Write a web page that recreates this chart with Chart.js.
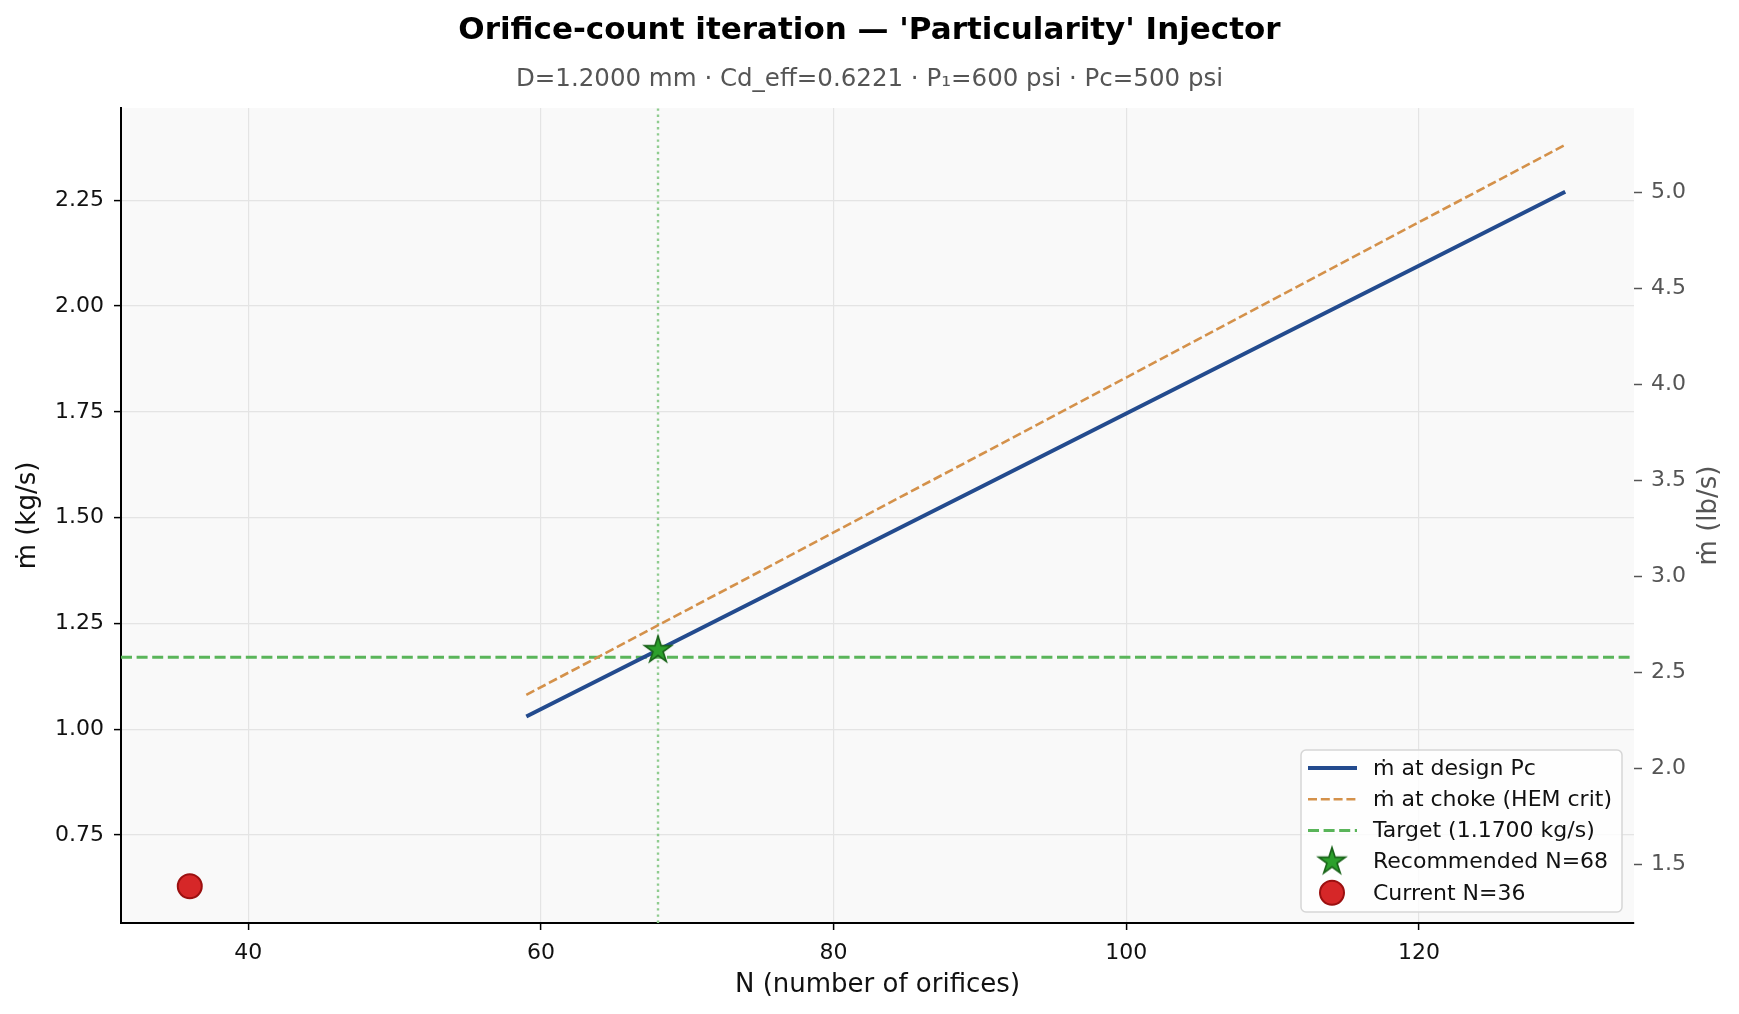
<!DOCTYPE html>
<html>
<head>
<meta charset="utf-8">
<script src="https://cdn.jsdelivr.net/npm/chart.js@4.4.1/dist/chart.umd.min.js"></script>
<style>
  html, body { margin: 0; padding: 0; background: #fff; }
  canvas { display: block; }
</style>
</head>
<body>
<canvas id="orificeChart" width="1739" height="1014"></canvas>
<script>
// values
const orificeCounts = [59, 70, 80, 90, 100, 110, 120, 130];
const mdotDesign = [1.030, 1.222, 1.397, 1.571, 1.746, 1.921, 2.095, 2.270];
const mdotChoke = [1.081, 1.282, 1.465, 1.648, 1.831, 2.015, 2.198, 2.381];
const targetMdot = 1.17;
const recommended = { n: 68, mdot: 1.187 };
const current = { n: 36, mdot: 0.629 };

const xTicks = [40, 60, 80, 100, 120];
const yTicksKg = [0.75, 1.0, 1.25, 1.5, 1.75, 2.0, 2.25];
const yTicksLb = [1.5, 2.0, 2.5, 3.0, 3.5, 4.0, 4.5, 5.0];

const xMin = 31.3, xMax = 134.7;
const yMin = 0.542, yMax = 2.468;
const KG_TO_LB = 2.20462;

const FONT = "'DejaVu Sans', 'Liberation Sans', sans-serif";

function makeStar(R, fill, stroke, lw) {
  const size = Math.ceil(2 * R + 2 * lw + 2);
  const c = document.createElement("canvas");
  c.width = size;
  c.height = size;
  const g = c.getContext("2d");
  const cx = size / 2, cy = size / 2;
  const r = R * 0.381966;
  g.beginPath();
  for (let i = 0; i < 10; i++) {
    const rad = i % 2 === 0 ? R : r;
    const a = -Math.PI / 2 + (i * Math.PI) / 5;
    const px = cx + rad * Math.cos(a);
    const py = cy + rad * Math.sin(a);
    if (i === 0) g.moveTo(px, py);
    else g.lineTo(px, py);
  }
  g.closePath();
  g.fillStyle = fill;
  g.fill();
  g.lineWidth = lw;
  g.lineJoin = "miter";
  g.strokeStyle = stroke;
  g.stroke();
  return c;
}

const starImg = makeStar(14, "#2ca02c", "#1a641a", 1.7);

const toPoints = (xs, ys) => xs.map((x, i) => ({ x: x, y: ys[i] }));

const plotBackground = {
  id: "plotBackground",
  beforeDraw(chart) {
    const { ctx, chartArea } = chart;
    ctx.save();
    ctx.fillStyle = "#f9f9f9";
    ctx.fillRect(chartArea.left, chartArea.top, chartArea.right - chartArea.left, chartArea.bottom - chartArea.top);
    ctx.restore();
  },
};

// right axis label reads bottom-to-top like the reference
const rightAxisLabel = {
  id: "rightAxisLabel",
  afterDraw(chart) {
    const { ctx, chartArea } = chart;
    ctx.save();
    ctx.translate(1709, (chartArea.top + chartArea.bottom) / 2);
    ctx.rotate(-Math.PI / 2);
    ctx.font = "26px " + FONT;
    ctx.fillStyle = "#555";
    ctx.textAlign = "center";
    ctx.textBaseline = "middle";
    ctx.fillText("ṁ (lb/s)", 0, 0);
    ctx.restore();
  },
};

const boxLegend = {
  id: "boxLegend",
  afterDraw(chart) {
    const { ctx, chartArea } = chart;
    const items = chart.data.datasets.filter((d) => d.inLegend);
    const w = 321, rowH = 31.2, h = 162;
    const left = chartArea.right - 12 - w;
    const top = chartArea.bottom - 11 - h;
    ctx.save();
    ctx.beginPath();
    ctx.roundRect(left, top, w, h, 5);
    ctx.fillStyle = "rgba(255,255,255,0.8)";
    ctx.fill();
    ctx.lineWidth = 1.5;
    ctx.strokeStyle = "#d6d6d6";
    ctx.stroke();

    ctx.font = "22px " + FONT;
    ctx.textBaseline = "middle";
    ctx.textAlign = "left";
    items.forEach((d, i) => {
      const cy = top + 18 + i * rowH;
      const hx0 = left + 7, hx1 = left + 56, hcx = left + 31;
      if (d.legendKind === "line") {
        ctx.beginPath();
        ctx.setLineDash(d.borderDash || []);
        ctx.lineWidth = d.borderWidth;
        ctx.strokeStyle = d.borderColor;
        ctx.moveTo(hx0, cy);
        ctx.lineTo(hx1, cy);
        ctx.stroke();
        ctx.setLineDash([]);
      } else if (d.legendKind === "star") {
        ctx.drawImage(starImg, hcx - starImg.width / 2, cy - starImg.height / 2);
      } else {
        ctx.beginPath();
        ctx.arc(hcx, cy, d.pointRadius, 0, Math.PI * 2);
        ctx.fillStyle = d.backgroundColor;
        ctx.fill();
        ctx.lineWidth = d.borderWidth;
        ctx.strokeStyle = d.borderColor;
        ctx.stroke();
      }
      ctx.fillStyle = "#111";
      ctx.fillText(d.label, left + 72, cy + 1);
    });
    ctx.restore();
  },
};

const config = {
  type: "line",
  data: {
    datasets: [
      {
        label: "ṁ at design Pc",
        data: toPoints(orificeCounts, mdotDesign),
        borderColor: "#234b8e",
        borderWidth: 4,
        pointRadius: 0,
        order: 3,
        inLegend: true,
        legendKind: "line",
      },
      {
        label: "ṁ at choke (HEM crit)",
        data: toPoints(orificeCounts, mdotChoke),
        borderColor: "#d4914a",
        borderWidth: 2.6,
        borderDash: [9, 3.8],
        pointRadius: 0,
        order: 4,
        inLegend: true,
        legendKind: "line",
      },
      {
        label: "Target (" + targetMdot.toFixed(4) + " kg/s)",
        data: [{ x: xMin, y: targetMdot }, { x: xMax, y: targetMdot }],
        borderColor: "#5ab55a",
        borderWidth: 3,
        borderDash: [11, 4.6],
        pointRadius: 0,
        order: 5,
        inLegend: true,
        legendKind: "line",
      },
      {
        label: "N line",
        data: [{ x: recommended.n, y: yMin }, { x: recommended.n, y: yMax }],
        borderColor: "#8fcc8f",
        borderWidth: 2.4,
        borderDash: [2.4, 3.8],
        pointRadius: 0,
        order: 6,
        inLegend: false,
      },
      {
        label: "Recommended N=" + recommended.n,
        data: [{ x: recommended.n, y: recommended.mdot }],
        showLine: false,
        pointStyle: starImg,
        pointRadius: 14,
        order: 0,
        inLegend: true,
        legendKind: "star",
      },
      {
        label: "Current N=" + current.n,
        data: [{ x: current.n, y: current.mdot }],
        showLine: false,
        pointStyle: "circle",
        pointRadius: 12,
        backgroundColor: "#d62728",
        borderColor: "#9b1010",
        borderWidth: 2,
        order: 1,
        inLegend: true,
        legendKind: "circle",
      },
    ],
  },
  options: {
    responsive: false,
    devicePixelRatio: 1,
    animation: false,
    layout: { padding: 0 },
    plugins: {
      legend: { display: false },
      tooltip: { enabled: false },
      title: {
        display: true,
        text: "Orifice-count iteration — 'Particularity' Injector",
        color: "#000",
        font: { family: FONT, size: 31, weight: "bold" },
        padding: { top: 12, bottom: 15.7 },
      },
      subtitle: {
        display: true,
        text: "D=1.2000 mm · Cd_eff=0.6221 · P₁=600 psi · Pc=500 psi",
        color: "#555",
        font: { family: FONT, size: 24.5 },
        padding: { top: 0, bottom: 13.7 },
      },
    },
    scales: {
      x: {
        type: "linear",
        min: xMin,
        max: xMax,
        afterBuildTicks: (scale) => {
          scale.ticks = xTicks.map((v) => ({ value: v }));
        },
        afterFit: (scale) => {
          scale.height = 91;
        },
        ticks: {
          color: "#111",
          font: { family: FONT, size: 22 },
          padding: 10,
          maxRotation: 0,
          callback: (v) => String(v),
        },
        grid: { color: "#e4e4e4", lineWidth: 1.2, tickColor: "#000", tickLength: 7, tickWidth: 1.5 },
        border: { display: true, color: "#000", width: 2 },
        title: {
          display: true,
          text: "N (number of orifices)",
          color: "#111",
          font: { family: FONT, size: 26 },
          padding: { top: 0, bottom: 13 },
        },
      },
      y: {
        type: "linear",
        position: "left",
        min: yMin,
        max: yMax,
        afterBuildTicks: (scale) => {
          scale.ticks = yTicksKg.map((v) => ({ value: v }));
        },
        afterFit: (scale) => {
          scale.width = 121;
        },
        ticks: {
          color: "#111",
          font: { family: FONT, size: 22 },
          padding: 10,
          callback: (v) => Number(v).toFixed(2),
        },
        grid: { color: "#e4e4e4", lineWidth: 1.2, tickColor: "#000", tickLength: 7, tickWidth: 1.5 },
        border: { display: true, color: "#000", width: 2 },
        title: {
          display: true,
          text: "ṁ (kg/s)",
          color: "#111",
          font: { family: FONT, size: 26 },
          padding: { top: 13, bottom: 0 },
        },
      },
      yLb: {
        type: "linear",
        position: "right",
        min: yMin * KG_TO_LB,
        max: yMax * KG_TO_LB,
        afterBuildTicks: (scale) => {
          scale.ticks = yTicksLb.map((v) => ({ value: v }));
        },
        afterFit: (scale) => {
          scale.width = 105;
        },
        ticks: {
          color: "#555",
          font: { family: FONT, size: 22 },
          padding: 9,
          callback: (v) => Number(v).toFixed(1),
        },
        grid: { drawOnChartArea: false, color: "#555", tickColor: "#555", tickLength: 8, tickWidth: 1.5 },
        border: { display: false },
      },
    },
  },
  plugins: [plotBackground, rightAxisLabel, boxLegend],
};

const orificeChart = new Chart(document.getElementById("orificeChart"), config);
</script>
</body>
</html>
